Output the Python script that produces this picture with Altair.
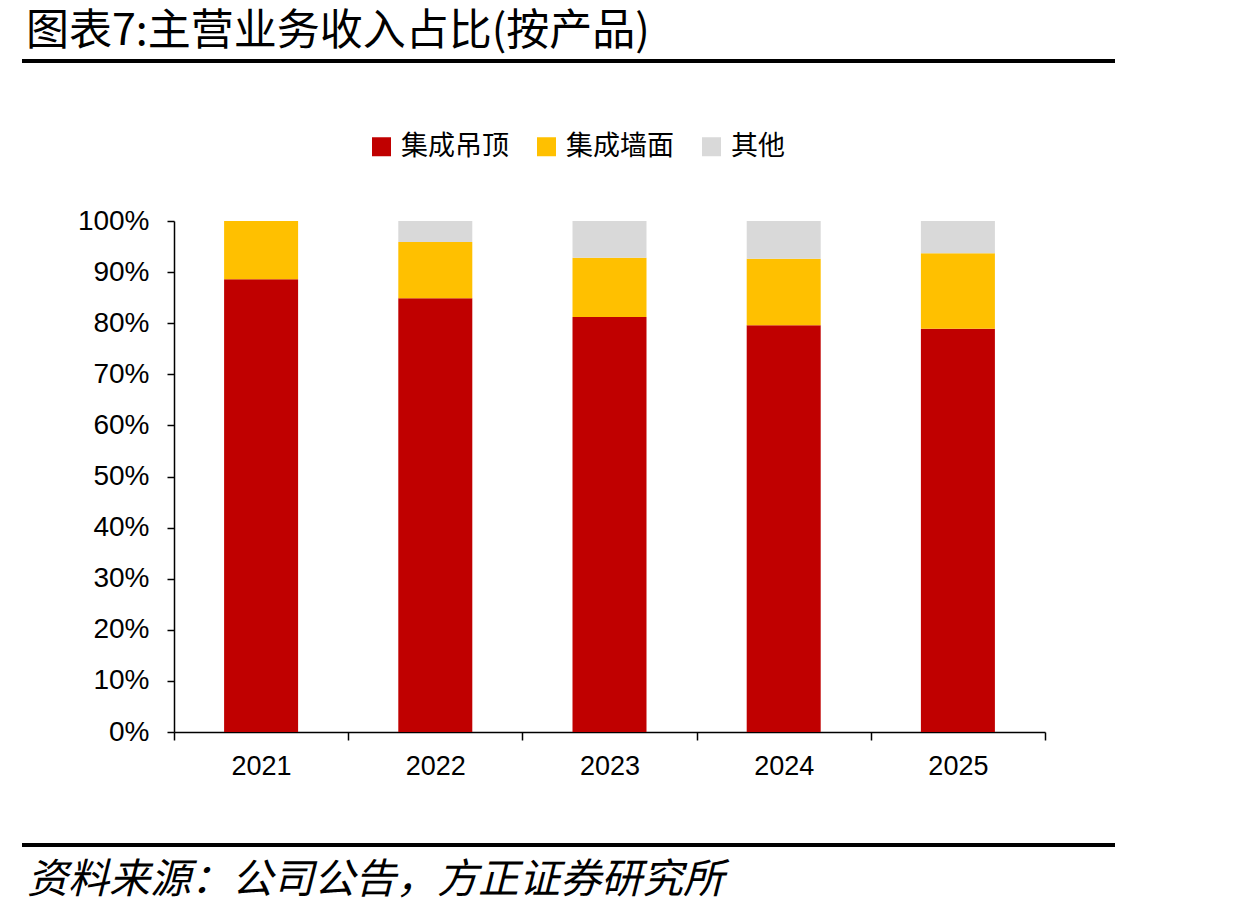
import altair as alt
import pandas as pd

# Share of main business revenue by product line
years = ["2021", "2022", "2023", "2024", "2025"]
products = ["集成吊顶", "集成墙面", "其他"]
ceiling = [0.886, 0.849, 0.812, 0.796, 0.789]
wall = [0.114, 0.110, 0.116, 0.130, 0.148]
other = [0.000, 0.041, 0.072, 0.074, 0.063]
colors = ["#C00000", "#FFC000", "#D9D9D9"]

title_text = "图表7:主营业务收入占比(按产品)"
source_text = "资料来源：公司公告，方正证券研究所"

rows = []
for i, y in enumerate(years):
    for k, (name, vals) in enumerate(zip(products, [ceiling, wall, other])):
        rows.append({"year": y, "product": name, "share": vals[i], "order": k})
df = pd.DataFrame(rows)

W, H = 871, 511
CJK = "Noto Sans CJK SC"
LAT = "Liberation Sans"

bars = alt.Chart(df).mark_bar(size=74).encode(
    x=alt.X("year:N", sort=years, title=None,
            scale=alt.Scale(paddingInner=0, paddingOuter=0),
            axis=alt.Axis(labelAngle=0, tickBand="extent", tickSize=8,
                          tickColor="black", domainColor="black", grid=False,
                          labelFont=LAT, labelFontSize=27, labelColor="black",
                          labelPadding=13, domainWidth=1.5, tickWidth=1.5)),
    y=alt.Y("share:Q", stack="zero", title=None,
            scale=alt.Scale(domain=[0, 1], nice=False),
            axis=alt.Axis(format=".0%", values=[i / 10 for i in range(11)],
                          tickSize=7, tickColor="black", domainColor="black",
                          labelFont=LAT, labelFontSize=28, labelColor="black",
                          labelPadding=18, grid=False, domainWidth=1.5,
                          tickWidth=1.5)),
    color=alt.Color("product:N",
                    scale=alt.Scale(domain=products, range=colors),
                    legend=alt.Legend(title=None, orient="none",
                                      direction="horizontal",
                                      legendX=194, legendY=-88,
                                      symbolType="square", symbolSize=361,
                                      symbolStrokeWidth=0,
                                      labelFont=CJK, labelFontSize=27,
                                      labelColor="black", labelOffset=6,
                                      columnPadding=24)),
    order=alt.Order("order:Q", sort="ascending"),
)

title = alt.Chart(pd.DataFrame({"t": [title_text]})).mark_text(
    font=CJK, fontSize=43, align="left", baseline="middle", color="black"
).encode(text="t:N", x=alt.value(-148), y=alt.value(-189))

source = alt.Chart(pd.DataFrame({"t": [source_text]})).mark_text(
    font=CJK, fontSize=41, fontStyle="italic", align="left",
    baseline="middle", color="black"
).encode(text="t:N", x=alt.value(-147), y=alt.value(660))

top_rule = alt.Chart(pd.DataFrame({"a": [0]})).mark_rule(
    color="black", strokeWidth=4
).encode(x=alt.value(-152), x2=alt.value(941), y=alt.value(-160))

bottom_rule = alt.Chart(pd.DataFrame({"a": [0]})).mark_rule(
    color="black", strokeWidth=4
).encode(x=alt.value(-152), x2=alt.value(941), y=alt.value(624))

chart = alt.layer(
    bars, title, source, top_rule, bottom_rule,
    view=alt.ViewBackground(stroke=None, fill=None),
).properties(
    width=W, height=H,
    autosize=alt.AutoSizeParams(type="none"),
    padding={"left": 174, "top": 221, "right": 208, "bottom": 182},
).configure_view(stroke=None).configure_axis(grid=False).configure(
    background="white"
)

chart.save("out.html", embed_options={"renderer": "svg", "actions": False})
